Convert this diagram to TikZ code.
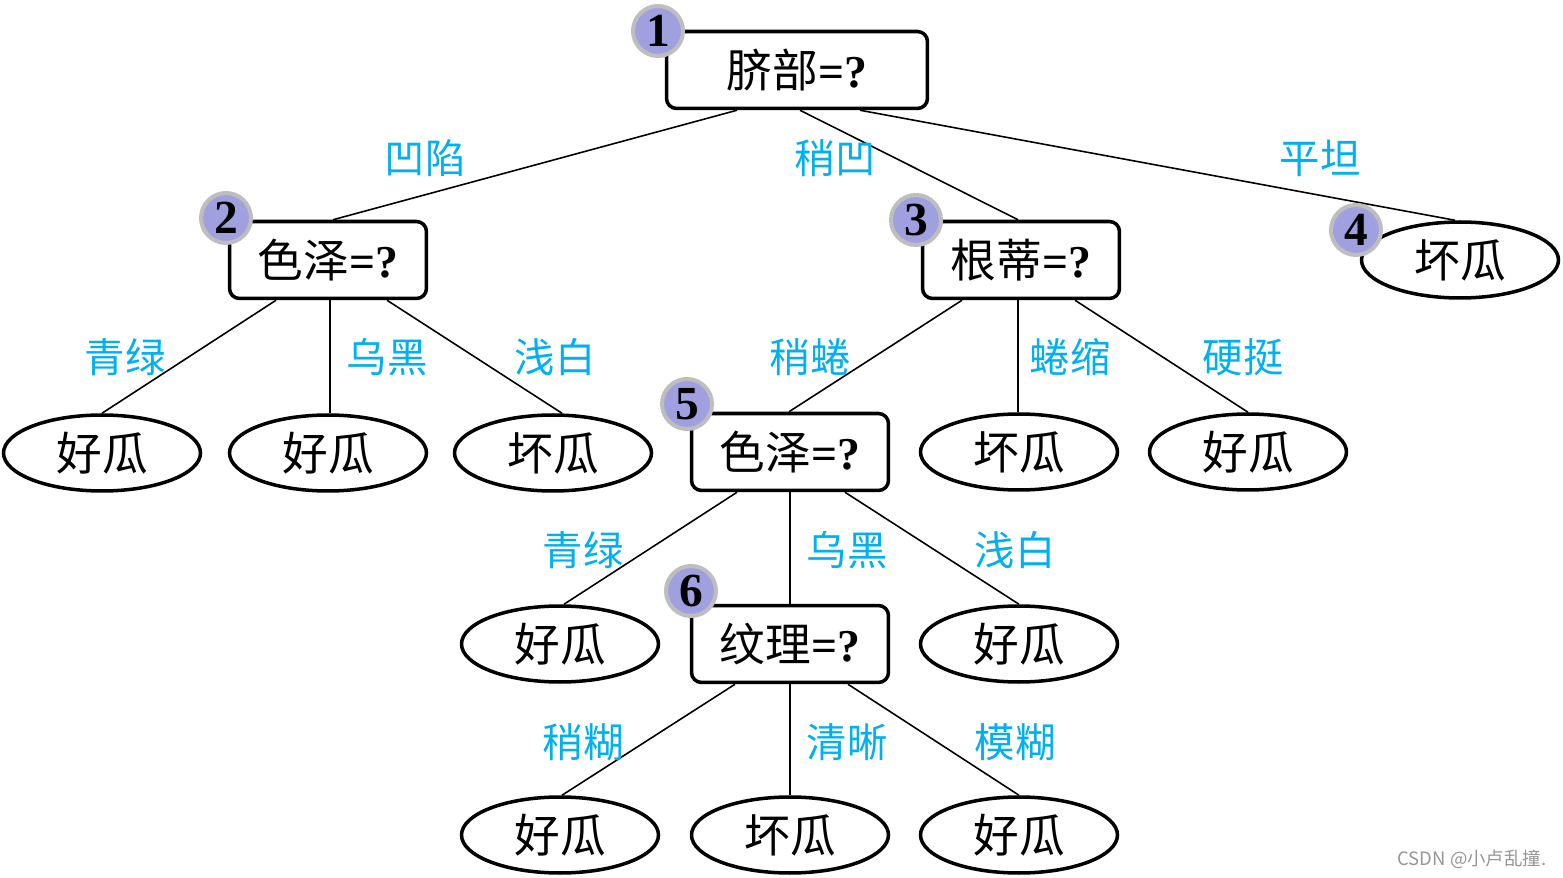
\documentclass[tikz,border=0pt]{standalone}
\usepackage{fontspec}
\setmainfont{Liberation Serif}
\newfontfamily\cjk{Noto Sans CJK SC}
\usetikzlibrary{shapes.geometric,calc}
\definecolor{labelblue}{RGB}{0,176,240}
\definecolor{numfill}{RGB}{160,160,224}
\definecolor{numring}{RGB}{190,190,190}
\definecolor{wmgray}{RGB}{150,150,150}
\tikzset{
  decision/.style={draw, line width=2pt, rounded corners=0.2cm, minimum width=3.94cm, minimum height=1.54cm, inner sep=0pt, fill=white, font=\fontsize{26}{26}\selectfont},
  leaf/.style={ellipse, draw, line width=2pt, minimum width=3.94cm, minimum height=1.52cm, inner sep=0pt, fill=white, font=\cjk\fontsize{26}{26}\selectfont},
  num/.style={circle, draw=numring, line width=2.3pt, fill=numfill, minimum size=1.0cm, inner sep=0pt, font=\fontsize{27}{27}\selectfont\bfseries},
  elabel/.style={text=labelblue, inner sep=0pt, font=\cjk\fontsize{23}{23}\selectfont},
  edge/.style={line width=0.9pt}
}
\newcommand{\eq}{\textbf{=?}}
\begin{document}
\begin{tikzpicture}[x=0.02cm,y=-0.02cm]
\useasboundingbox (0,0) rectangle (1563,878);
% decision nodes
\node[decision, minimum width=5.22cm] (n1) at (797,70) {{\cjk 脐部}\eq};
\node[decision] (n2) at (328,260) {{\cjk 色泽}\eq};
\node[decision] (n3) at (1021,260) {{\cjk 根蒂}\eq};
\node[leaf] (n4) at (1460,260) {坏瓜};
\node[leaf] (a1) at (102,453) {好瓜};
\node[leaf] (a2) at (328,453) {好瓜};
\node[leaf] (a3) at (553,453) {坏瓜};
\node[decision] (n5) at (790,452) {{\cjk 色泽}\eq};
\node[leaf] (b2) at (1019,452) {坏瓜};
\node[leaf] (b3) at (1248,452) {好瓜};
\node[leaf] (c1) at (560,644) {好瓜};
\node[decision] (n6) at (790,644) {{\cjk 纹理}\eq};
\node[leaf] (c3) at (1019,644) {好瓜};
\node[leaf] (d1) at (560,835) {好瓜};
\node[leaf] (d2) at (790,835) {坏瓜};
\node[leaf] (d3) at (1019,835) {好瓜};
% edges
\draw[edge] ([xshift=-1.2cm]n1.south) -- ([xshift=0.1cm]n2.north);
\draw[edge] ([xshift=0.06cm]n1.south) -- ([xshift=-0.06cm]n3.north);
\draw[edge] ([xshift=1.26cm]n1.south) -- ([xshift=-0.1cm]n4.north);
\draw[edge] ([xshift=-1.04cm]n2.south) -- (a1.north);
\draw[edge] ([xshift=0.04cm]n2.south) -- ([xshift=0.04cm]a2.north);
\draw[edge] ([xshift=1.18cm]n2.south) -- ([xshift=0.18cm]a3.north);
\draw[edge] ([xshift=-1.18cm]n3.south) -- ([xshift=-0.02cm]n5.north);
\draw[edge] ([xshift=-0.06cm]n3.south) -- ([xshift=-0.02cm]b2.north);
\draw[edge] ([xshift=1.08cm]n3.south) -- (b3.north);
\draw[edge] ([xshift=-1.06cm]n5.south) -- ([xshift=0.08cm]c1.north);
\draw[edge] (n5.south) -- (n6.north);
\draw[edge] ([xshift=1.1cm]n5.south) -- (c3.north);
\draw[edge] ([xshift=-1.1cm]n6.south) -- ([xshift=0.04cm]d1.north);
\draw[edge] (n6.south) -- (d2.north);
\draw[edge] ([xshift=1.16cm]n6.south) -- (d3.north);
% edge labels
\node[elabel] (l1) at (425,158) {凹陷};
\node[elabel] (l2) at (835,158) {稍凹};
\node[elabel] (l3) at (1320,158) {平坦};
\node[elabel] (l4) at (125,357) {青绿};
\node[elabel] (l5) at (387,357) {乌黑};
\node[elabel] (l6) at (555,357) {浅白};
\node[elabel] (l7) at (810,357) {稍蜷};
\node[elabel] (l8) at (1070,357) {蜷缩};
\node[elabel] (l9) at (1243,357) {硬挺};
\node[elabel] (l10) at (583,550) {青绿};
\node[elabel] (l11) at (847,550) {乌黑};
\node[elabel] (l12) at (1015,550) {浅白};
\node[elabel] (l13) at (583,742) {稍糊};
\node[elabel] (l14) at (847,742) {清晰};
\node[elabel] (l15) at (1015,742) {模糊};
% number badges
\node[num] (k1) at (658,31) {1};
\node[num] (k2) at (226,218) {2};
\node[num] (k3) at (916,220) {3};
\node[num] (k4) at (1356,230) {4};
\node[num] (k5) at (687,404) {5};
\node[num] (k6) at (691,591) {6};
% watermark
\node[text=wmgray, font=\cjk\fontsize{10.5}{10.5}\selectfont, inner sep=0pt] (wm) at (1472,859) {CSDN @小卢乱撞.};
\end{tikzpicture}
\end{document}
